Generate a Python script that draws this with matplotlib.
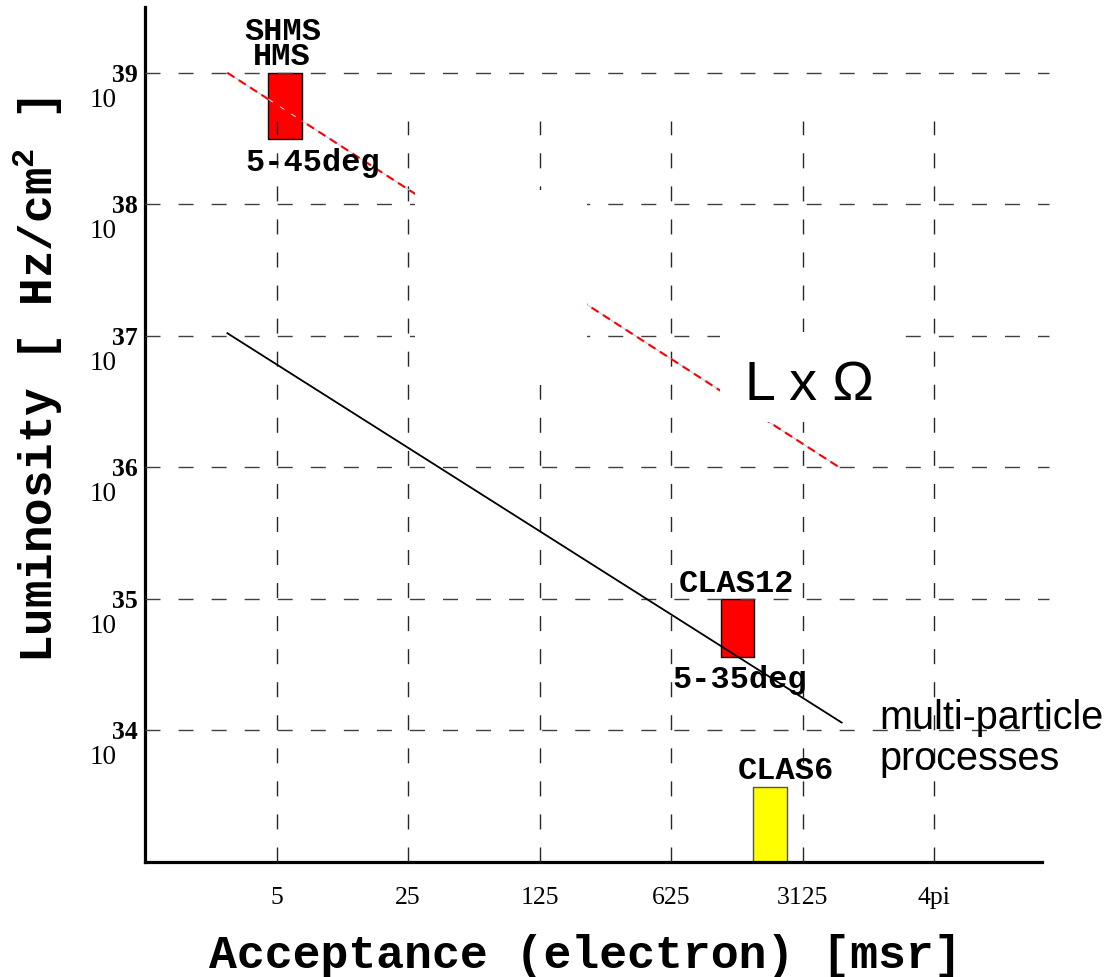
import matplotlib.pyplot as plt
from matplotlib.patches import Rectangle
import numpy as np

plt.rcParams['mathtext.fontset'] = 'custom'
plt.rcParams['mathtext.rm'] = 'Liberation Mono:bold'
plt.rcParams['mathtext.it'] = 'Liberation Mono:bold'
plt.rcParams['mathtext.bf'] = 'Liberation Mono:bold'

# acceptance axis (msr), log base 5, last tick is "4pi"
x_ticks = [5, 25, 125, 625, 3125, 15625]
x_tick_labels = ['5', '25', '125', '625', '3125', '4pi']
# luminosity decades (Hz/cm^2)
y_exponents = [34, 35, 36, 37, 38, 39]

# detector boxes: acceptance range x luminosity range
det_acc_lo = [4.5, 1150, 1700]
det_acc_hi = [6.8, 1720, 2570]
det_lum_lo = [10**38.5, 10**34.56, 1e33]
det_lum_hi = [1e39, 1e35, 10**33.57]
det_colors = ['#ff0000', '#ff0000', '#ffff00']
det_edges = ['black', 'black', '#555555']

# L x Omega line and multi-particle processes line
lxo_acc = [2.74, 4900]
lxo_lum = [1e39, 1e36]
multi_acc = [2.74, 5040]
multi_lum = [10**37.02, 10**34.06]

W, H = 1106, 977
fig = plt.figure(figsize=(W / 100, H / 100), dpi=100)
ax = fig.add_axes([145 / W, 115 / H, 897 / W, 855 / H])
ax.set_xscale('log', base=5)
ax.set_yscale('log')
ax.set_xlim(1, 5**6.82)
ax.set_ylim(1e33, 10**39.5)

for s in ['top', 'right']:
    ax.spines[s].set_visible(False)
for s in ['left', 'bottom']:
    ax.spines[s].set_linewidth(2.3)

mono = 'Liberation Mono'
serif = 'Liberation Serif'

# bars
for lo, hi, ylo, yhi, c, ec in zip(det_acc_lo, det_acc_hi, det_lum_lo, det_lum_hi, det_colors, det_edges):
    ax.fill_between([lo, hi], ylo, yhi, facecolor=c, edgecolor=ec, lw=1.0, zorder=2)

# grid
y_grid = 10.0 ** np.array(y_exponents)
grid_ls = (0, (10.8, 13))
ax.hlines(y_grid, 1, 5**6.87, colors='0.25', lw=1.0, linestyles=[grid_ls], zorder=3, clip_on=False)
ax.vlines(x_ticks, 1e33, 10**38.63, colors='0.15', lw=1.0, linestyles=[grid_ls], zorder=3)

# lines
ax.plot(lxo_acc, lxo_lum, color='#add8e6', lw=0.8, zorder=3.4)
ax.plot(lxo_acc, lxo_lum, color='#ff0000', lw=1.5, dashes=(4, 2.5), zorder=3.5)
ax.plot(multi_acc, multi_lum, color='black', lw=1.3, zorder=3.5)

# blanked regions from the original figure
ax.add_patch(Rectangle((0.301, 0.558), 0.192, 0.228, transform=ax.transAxes,
                       facecolor='white', edgecolor='none', zorder=4))
ax.add_patch(Rectangle((0.641, 0.5146), 0.203, 0.105, transform=ax.transAxes,
                       facecolor='white', edgecolor='none', zorder=4))

# ticks
ax.set_xticks(x_ticks)
ax.set_xticklabels(x_tick_labels, family=serif, size=18.5)
ax.xaxis.set_minor_locator(plt.NullLocator())
ax.yaxis.set_minor_locator(plt.NullLocator())
ax.tick_params(axis='x', length=0, pad=18)
ax.set_yticks(y_grid)
ax.set_yticklabels([])
ax.tick_params(axis='y', length=0)
for e in y_exponents:
    ax.annotate('10', xy=(0, 10.0**e), xycoords=('axes fraction', 'data'),
                xytext=(-20.2, -24.5), textcoords='offset points',
                ha='right', va='baseline', family=serif, size=19.5)
    ax.annotate(str(e), xy=(0, 10.0**e), xycoords=('axes fraction', 'data'),
                xytext=(-23.8, -6.5), textcoords='offset points',
                ha='left', va='baseline', family=serif, weight='bold', size=18.5)

# labels
lab = dict(family=mono, weight='bold', size=23, ha='center', va='baseline', zorder=5)
ax.text(5.38, 10**39.25, 'SHMS', **lab)
ax.text(5.31, 10**39.06, 'HMS', **lab)
ax.text(7.77, 10**38.25, '5-45deg', **lab)
ax.text(1392, 10**35.05, 'CLAS12', **lab)
ax.text(1444, 10**34.32, '5-35deg', **lab)
ax.text(2540, 10**33.63, 'CLAS6', **lab)

ax.text(8040, 10**34.01, 'multi-particle', family='Liberation Sans', size=28.5,
        ha='left', va='baseline', zorder=5, clip_on=False)
ax.text(8040, 10**33.70, 'processes', family='Liberation Sans', size=28.5,
        ha='left', va='baseline', zorder=5, clip_on=False)

ax.text(3405, 10**36.513, 'L x Ω', family='Liberation Sans', size=40,
        ha='center', va='baseline', zorder=5)

fig.text(585 / W, 9 / H, 'Acceptance (electron) [msr]', family=mono, weight='bold',
         size=33.5, ha='center', va='baseline')
fig.text(38 / W, 1 - 380 / H, r'Luminosity [ Hz/cm$^2$ ]', family=mono, weight='bold',
         size=33, rotation=90, ha='center', va='center')

fig.savefig('out.png', dpi=100)
